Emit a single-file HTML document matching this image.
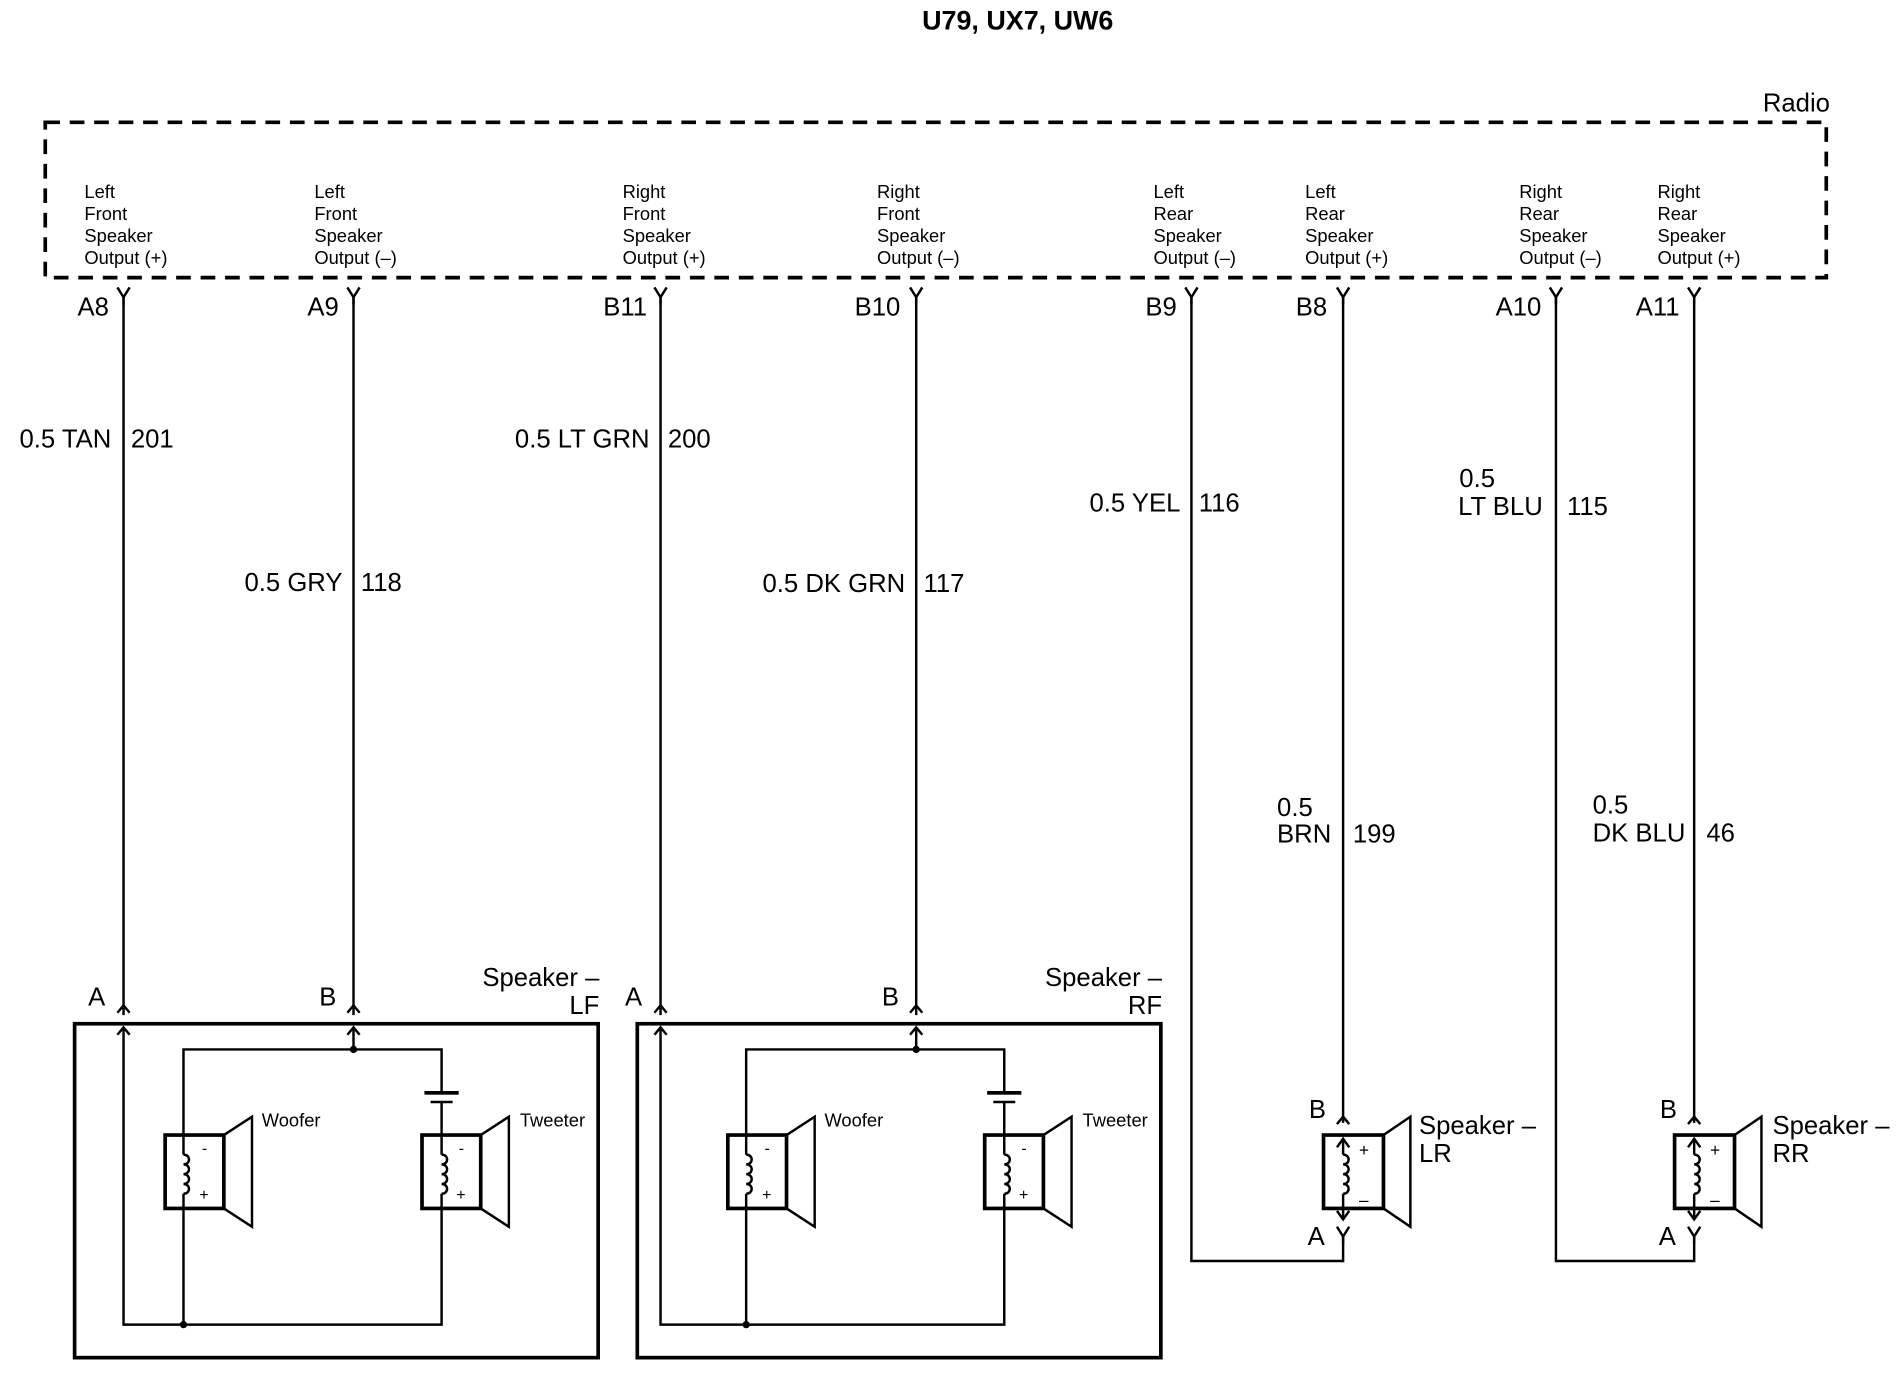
<!DOCTYPE html>
<html><head><meta charset="utf-8"><style>
html,body{margin:0;padding:0;background:#fff;}
svg{display:block;}
text{font-family:"Liberation Sans",sans-serif;fill:#000;}
.s{font-size:15px;}
.m{font-size:21px;}
.w{font-size:15px;}
</style></head><body>
<svg width="1896" height="1376" viewBox="0 0 1550 1125" preserveAspectRatio="none" xmlns="http://www.w3.org/2000/svg">
<defs>
<g id="yf"><path d="M-5,-8 L0,0 L5,-8 M0,0 V6" fill="none" stroke="#000" stroke-width="2"/></g>
<g id="af"><path d="M-5,6 L0,0 L5,6" fill="none" stroke="#000" stroke-width="2"/></g>
<g id="coil"><path d="M0,0 c6,0 6,8 0,8 c6,0 6,8 0,8 c6,0 6,8 0,8 c6,0 6,8 0,8" fill="none" stroke="#000" stroke-width="2"/></g>
</defs>
<text x="832" y="24" text-anchor="middle" font-weight="bold" font-size="22">U79, UX7, UW6</text>
<text x="1496" y="91" text-anchor="end" font-size="21">Radio</text>
<rect x="37" y="100" width="1456" height="127" fill="none" stroke="#000" stroke-width="3" stroke-dasharray="12,8"/>
<g class="s">
<text x="69" y="162">Left</text><text x="69" y="180">Front</text><text x="69" y="198">Speaker</text><text x="69" y="216">Output (+)</text>
<text x="257" y="162">Left</text><text x="257" y="180">Front</text><text x="257" y="198">Speaker</text><text x="257" y="216">Output (–)</text>
<text x="509" y="162">Right</text><text x="509" y="180">Front</text><text x="509" y="198">Speaker</text><text x="509" y="216">Output (+)</text>
<text x="717" y="162">Right</text><text x="717" y="180">Front</text><text x="717" y="198">Speaker</text><text x="717" y="216">Output (–)</text>
<text x="943" y="162">Left</text><text x="943" y="180">Rear</text><text x="943" y="198">Speaker</text><text x="943" y="216">Output (–)</text>
<text x="1067" y="162">Left</text><text x="1067" y="180">Rear</text><text x="1067" y="198">Speaker</text><text x="1067" y="216">Output (+)</text>
<text x="1242" y="162">Right</text><text x="1242" y="180">Rear</text><text x="1242" y="198">Speaker</text><text x="1242" y="216">Output (–)</text>
<text x="1355" y="162">Right</text><text x="1355" y="180">Rear</text><text x="1355" y="198">Speaker</text><text x="1355" y="216">Output (+)</text>
</g>
<g stroke="#000" stroke-width="2" fill="none">
<path d="M101,242V830 M289,242V830 M540,242V830 M749,242V830 M974,242V1031H1098V1010 M1098,242V918 M1272,242V1031H1385V1010 M1385,242V918"/>
</g>
<use href="#yf" x="101" y="243"/><use href="#yf" x="289" y="243"/><use href="#yf" x="540" y="243"/><use href="#yf" x="749" y="243"/>
<use href="#yf" x="974" y="243"/><use href="#yf" x="1098" y="243"/><use href="#yf" x="1272" y="243"/><use href="#yf" x="1385" y="243"/>
<g class="m" text-anchor="end">
<text x="89" y="258">A8</text><text x="277" y="258">A9</text><text x="529" y="258">B11</text><text x="736" y="258">B10</text>
<text x="962" y="258">B9</text><text x="1085" y="258">B8</text><text x="1260" y="258">A10</text><text x="1373" y="258">A11</text>
<text x="91" y="366">0.5 TAN</text><text x="280" y="483">0.5 GRY</text><text x="531" y="366">0.5 LT GRN</text><text x="740" y="484">0.5 DK GRN</text>
<text x="965" y="418">0.5 YEL</text>
</g>
<g class="m">
<text x="107" y="366">201</text><text x="295" y="483">118</text><text x="546" y="366">200</text><text x="755" y="484">117</text>
<text x="980" y="418">116</text>
<text x="1193" y="398">0.5</text><text x="1192" y="421">LT BLU</text><text x="1281" y="421">115</text>
<text x="1044" y="667">0.5</text><text x="1044" y="689">BRN</text><text x="1106" y="689">199</text>
<text x="1302" y="665">0.5</text><text x="1302" y="688">DK BLU</text><text x="1395" y="688">46</text>
</g>
<g id="fs">
<rect x="61" y="837" width="428" height="273" fill="none" stroke="#000" stroke-width="3"/>
<g stroke="#000" stroke-width="2" fill="none">
<path d="M150,1083V858H361V893 M348,893H374 M352,901H370 M361,901V1083H150 M289,840V858"/>
<rect x="135" y="928" width="48" height="60" stroke-width="3"/>
<path d="M183,928L206,913V1003L183,988"/>
<rect x="345" y="928" width="48" height="60" stroke-width="3"/>
<path d="M393,928L416,913V1003L393,988"/>
</g>
<rect x="347" y="892" width="28" height="3"/>
<circle cx="289" cy="858" r="3"/><circle cx="150" cy="1083" r="3"/>
<rect x="146" y="944" width="8" height="32" fill="#fff"/><use href="#coil" x="150" y="944"/>
<rect x="356" y="944" width="8" height="32" fill="#fff"/><use href="#coil" x="361" y="944"/>
<text x="165" y="943" font-size="13">-</text><text x="163" y="981" font-size="13">+</text>
<text x="375" y="943" font-size="13">-</text><text x="373" y="981" font-size="13">+</text>
<text x="214" y="921" class="w">Woofer</text><text x="425" y="921" class="w">Tweeter</text>
<use href="#af" x="289" y="822"/><use href="#af" x="289" y="840"/>
</g>
<use href="#fs" x="460" y="0"/>
<g stroke="#000" stroke-width="2" fill="none">
<path d="M101,840V1083H150 M540,840V1083H610"/>
</g>
<use href="#af" x="101" y="822"/><use href="#af" x="101" y="840"/>
<use href="#af" x="540" y="822"/><use href="#af" x="540" y="840"/>
<g class="m">
<text x="72" y="822">A</text><text x="261" y="822">B</text><text x="511" y="822">A</text><text x="721" y="822">B</text>
<text x="490" y="806" text-anchor="end">Speaker –</text><text x="490" y="829" text-anchor="end">LF</text>
<text x="950" y="806" text-anchor="end">Speaker –</text><text x="950" y="829" text-anchor="end">RF</text>
</g>
<g id="rs">
<g stroke="#000" stroke-width="2" fill="none">
<rect x="1082" y="928" width="49" height="60" stroke-width="3"/>
<path d="M1131,928L1153,913V1003L1131,988 M1098,931V944 M1098,976V996"/>
<path d="M1093,938L1098,931L1103,938 M1093,990L1098,997L1103,990"/>
</g>
<use href="#coil" x="1098" y="944"/>
<use href="#af" x="1098" y="913"/><use href="#yf" x="1098" y="1011"/>
<text x="1111" y="945" font-size="14">+</text><text x="1111" y="986" font-size="14">–</text>
<text x="1070" y="914" class="m">B</text><text x="1069" y="1018" class="m">A</text>
</g>
<use href="#rs" x="287" y="0"/>
<g class="m">
<text x="1160" y="927">Speaker –</text><text x="1160" y="950">LR</text>
<text x="1449" y="927">Speaker –</text><text x="1449" y="950">RR</text>
</g>
</svg>
</body></html>
